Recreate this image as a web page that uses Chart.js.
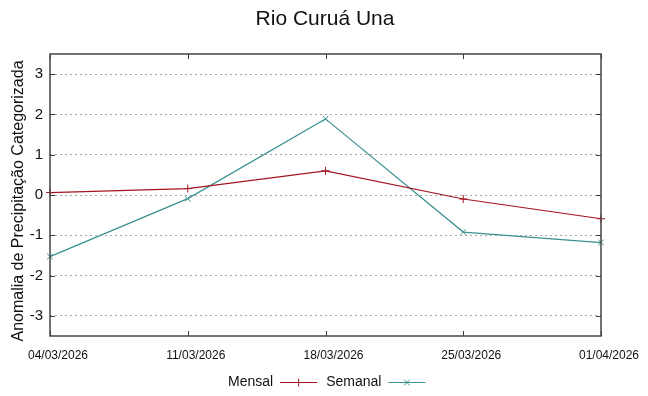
<!DOCTYPE html>
<html>
<head>
<meta charset="utf-8">
<script src="https://cdn.jsdelivr.net/npm/chart.js@4.4.1/dist/chart.umd.min.js"></script>
<style>
  html, body { margin: 0; padding: 0; background: #fff; }
  #wrap { width: 648px; height: 396px; position: relative; }
</style>
</head>
<body>
<div id="wrap"><canvas id="chart"></canvas></div>
<script>
// ── Data ──────────────────────────────────────────
const dates   = ['04/03/2026', '11/03/2026', '18/03/2026', '25/03/2026', '01/04/2026'];
const mensal  = [0.06, 0.16, 0.60, -0.10, -0.59];
const semanal = [-1.53, -0.09, 1.89, -0.92, -1.18];
const yTicks  = [-3, -2, -1, 0, 1, 2, 3];

const FONT = "'Liberation Sans', Arial, sans-serif";
const RED  = '#a3141f';
const TEAL = '#3a9191';

// frame, inner tick marks, titles and gnuplot-like legend
const gnuplotDecor = {
  id: 'gnuplotDecor',
  afterDatasetsDraw(chart) {
    const { ctx, chartArea: a, scales } = chart;
    ctx.save();
    ctx.strokeStyle = '#3a3a3a';
    ctx.lineWidth = 1;
    // inner tick marks
    ctx.beginPath();
    scales.x.ticks.forEach((t, i) => {
      const px = Math.round(scales.x.getPixelForTick(i)) + 0.5;
      ctx.moveTo(px, a.top); ctx.lineTo(px, a.top + 5);
      ctx.moveTo(px, a.bottom); ctx.lineTo(px, a.bottom - 5);
    });
    yTicks.forEach(v => {
      const py = Math.round(scales.y.getPixelForValue(v)) + 0.5;
      ctx.moveTo(a.left, py); ctx.lineTo(a.left + 5, py);
      ctx.moveTo(a.right, py); ctx.lineTo(a.right - 5, py);
    });
    ctx.stroke();
    // frame
    ctx.strokeStyle = '#444';
    ctx.lineWidth = 1.5;
    ctx.strokeRect(a.left, a.top, a.right - a.left, a.bottom - a.top);
    ctx.restore();
  },
  afterDraw(chart) {
    const { ctx } = chart;
    ctx.save();
    ctx.fillStyle = '#111';
    ctx.textAlign = 'center';
    ctx.textBaseline = 'middle';
    // title
    ctx.font = '21px ' + FONT;
    ctx.fillText('Rio Curuá Una', 325, 19);

    // y axis title
    ctx.save();
    ctx.translate(19, 201);
    ctx.rotate(-Math.PI / 2);
    ctx.font = '16px ' + FONT;
    ctx.fillText('Anomalia de Precipitação Categorizada', 0, 0);
    ctx.restore();

    // legend: text then line sample with marker
    ctx.font = '14px ' + FONT;
    const ly = 382;
    let x = 228;
    chart.data.datasets.forEach(ds => {
      ctx.fillStyle = '#111';
      ctx.textAlign = 'left';
      ctx.fillText(ds.label, x, ly);
      x += ctx.measureText(ds.label).width + 7;
      ctx.strokeStyle = ds.borderColor;
      ctx.lineWidth = 1;
      ctx.beginPath();
      ctx.moveTo(x, ly + 0.5); ctx.lineTo(x + 37, ly + 0.5);
      ctx.stroke();
      Chart.helpers.drawPoint(ctx, {
        pointStyle: ds.pointStyle, radius: 4, borderWidth: 1
      }, x + 18.5, ly + 0.5);
      x += 46;
    });
    ctx.restore();
  }
};

new Chart(document.getElementById('chart'), {
  type: 'line',
  data: {
    labels: dates,
    datasets: [
      {
        label: 'Mensal',
        data: mensal,
        borderColor: RED,
        backgroundColor: RED,
        borderWidth: 1.2,
        pointStyle: 'cross',
        pointRadius: 4,
        pointBorderWidth: 1,
        tension: 0
      },
      {
        label: 'Semanal',
        data: semanal,
        borderColor: TEAL,
        backgroundColor: TEAL,
        borderWidth: 1.2,
        pointStyle: 'crossRot',
        pointRadius: 4,
        pointBorderWidth: 1,
        tension: 0
      }
    ]
  },
  options: {
    responsive: true,
    maintainAspectRatio: false,
    animation: false,
    layout: { padding: { top: 54, left: 0, right: 47, bottom: 0 } },
    plugins: {
      legend: { display: false },
      title: { display: false },
      tooltip: { enabled: false }
    },
    scales: {
      x: {
        type: 'category',
        offset: false,
        afterFit: (s) => { s.height = 60; },
        grid: { display: false, drawTicks: false },
        border: { display: false },
        ticks: {
          color: '#111',
          padding: 12,
          labelOffset: 8,
          maxRotation: 0,
          autoSkip: false,
          font: { family: FONT, size: 12 }
        }
      },
      y: {
        min: -3.5,
        max: 3.5,
        afterFit: (s) => { s.width = 50; },
        afterBuildTicks: (s) => { s.ticks = yTicks.map(v => ({ value: v })); },
        grid: {
          drawTicks: false,
          color: '#a8a8a8',
          lineWidth: 1
        },
        border: { display: false, dash: [2, 3] },
        ticks: {
          color: '#111',
          padding: 7,
          font: { family: FONT, size: 15 }
        }
      }
    }
  },
  plugins: [gnuplotDecor]
});
</script>
</body>
</html>
